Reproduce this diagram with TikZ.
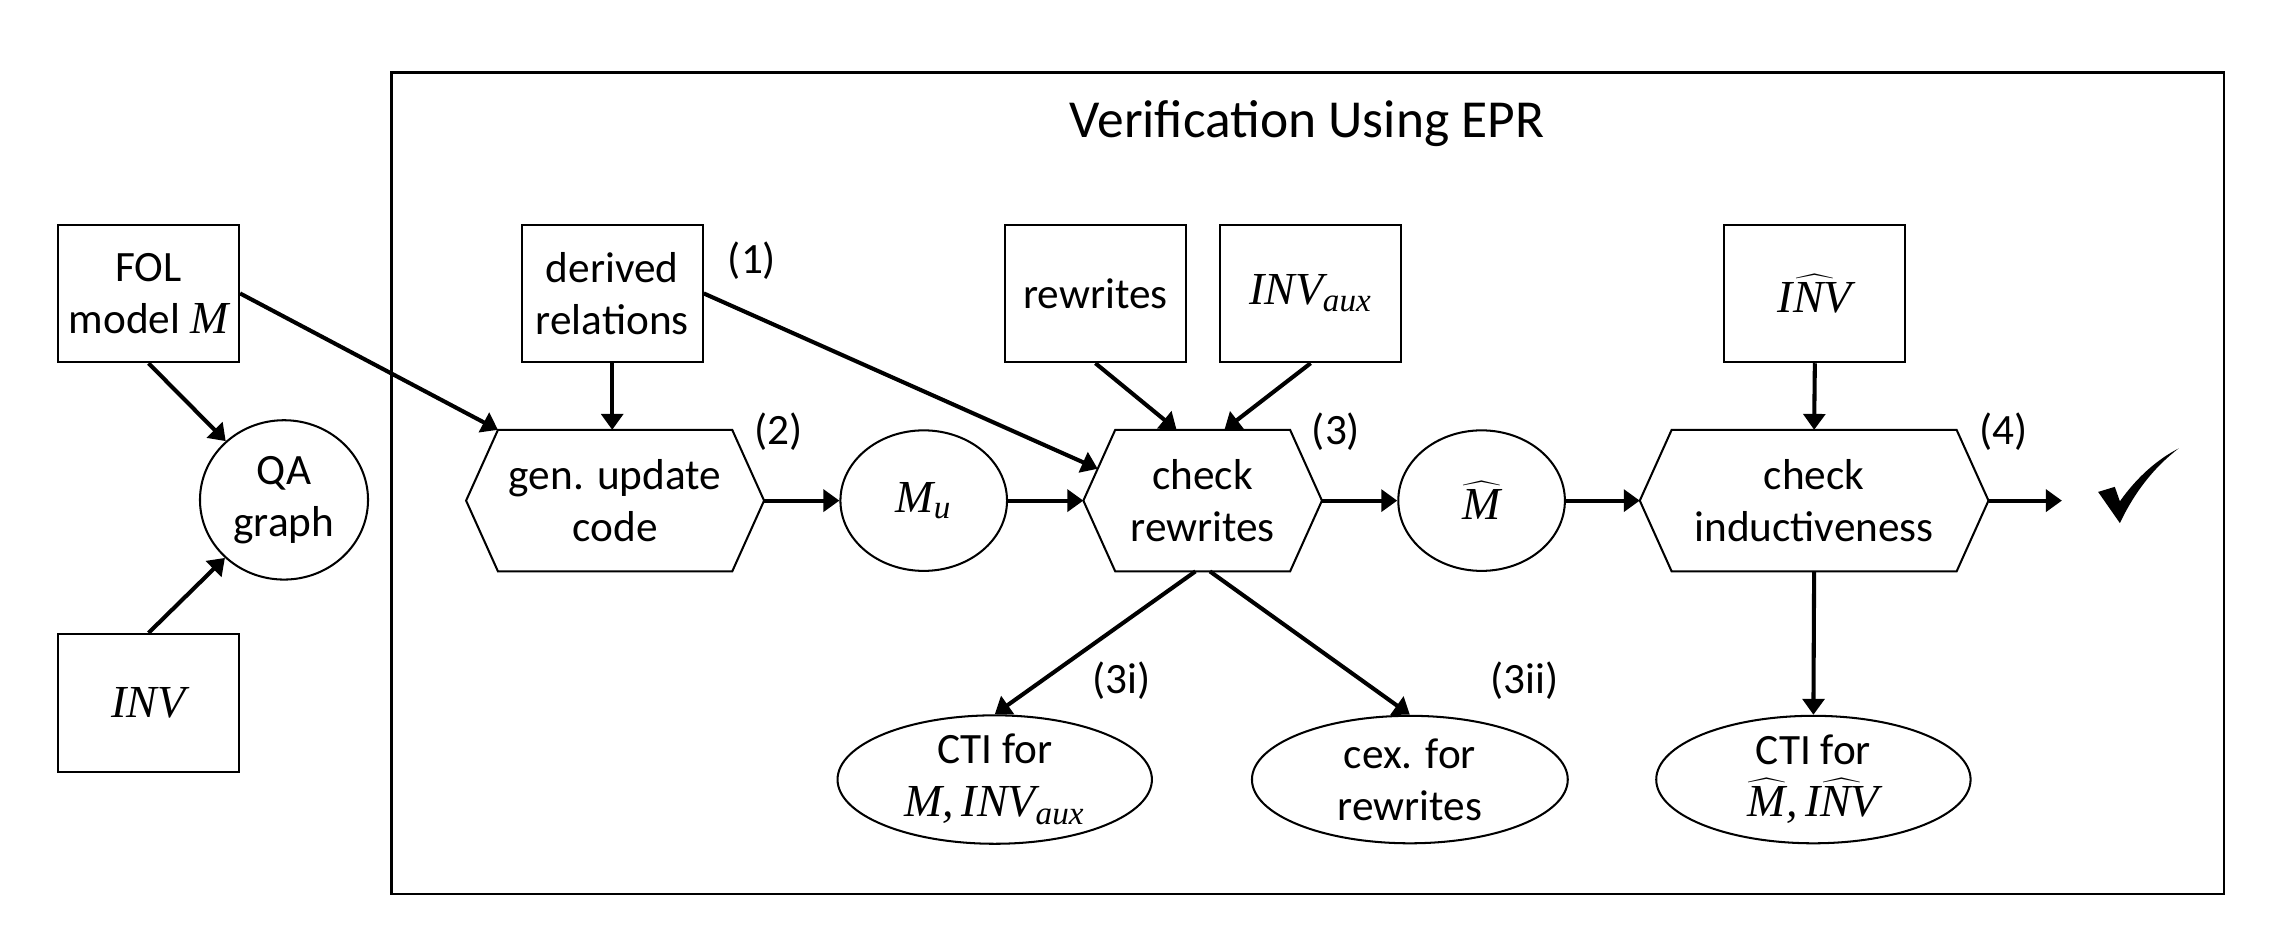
\documentclass[tikz,border=0pt]{standalone}
\usepackage{fontspec}
\setmainfont{Carlito}
\newfontfamily\mif{Liberation Serif}
\usetikzlibrary{arrows.meta,calc,shapes.geometric}
\newcommand{\fs}{\fontsize{17}{20.5}\selectfont}
\newcommand{\mv}[1]{\mbox{\fontsize{18}{20.5}\mif\itshape #1}}
\newcommand{\msub}[1]{\mbox{\fontsize{13}{14}\mif\itshape #1}}
\newcommand{\hexdraw}[1]{\draw[line width=0.8pt] ([xshift=0.44cm]#1.north west) -- ([xshift=-0.44cm]#1.north east) -- (#1.east) -- ([xshift=-0.44cm]#1.south east) -- ([xshift=0.44cm]#1.south west) -- (#1.west) -- cycle;}
\tikzset{
  box/.style={draw, line width=0.8pt, minimum width=2.5cm, minimum height=1.9cm, align=center, inner sep=0pt, font=\fs},
  ell/.style={draw, ellipse, line width=0.8pt, align=center, inner sep=0pt, font=\fs},
  hx/.style={minimum height=1.94cm, align=center, inner sep=0pt, font=\fs},
  arr/.style={-{Triangle[length=0.22cm,width=0.3cm]}, line width=1.6pt},
  lbl/.style={font=\fs, inner sep=0pt}
}
\begin{document}
\begin{tikzpicture}[x=0.02cm,y=-0.02cm]
\useasboundingbox (0,0) rectangle (1568,638);
\draw[line width=1pt] (270,50) rectangle (1535,617);
\node[font=\fontsize{21}{25}\selectfont] (title) at (902,85) {Verification Using EPR};
% left
\node[box] (fol) at (102.5,202.5) {FOL\\model $\mv{M}$};
\node[box] (inv) at (102.5,485) {$\mv{INV}$};
\node[ell, minimum width=2.32cm, minimum height=2.2cm] (qa) at (196,345) {QA\\graph};
% top boxes
\node[box] (der) at (422.5,202.5) {derived\\relations};
\node[box] (rew) at (756,202.5) {rewrites};
\node[box] (aux) at (904.5,202.5) {$\mv{INV}_{\msub{aux}}$};
\node[box] (invh) at (1252.5,202.5) {$\widehat{\mv{INV}}$};
% hexagons
\node[hx, minimum width=4.1cm] (gen) at (424.5,345.5) {gen. update\\code};
\node[hx, minimum width=3.28cm] (chk) at (830,345.5) {check\\rewrites};
\node[hx, minimum width=4.8cm] (ind) at (1252,345.5) {check\\inductiveness};
\hexdraw{gen}
\hexdraw{chk}
\hexdraw{ind}
% ellipses
\node[ell, minimum width=2.3cm, minimum height=1.94cm] (mu) at (637.5,345.5) {$\mv{M}_{\msub{u}}$};
\node[ell, minimum width=2.3cm, minimum height=1.94cm] (mh) at (1022.5,345.5) {$\widehat{\mv{M}}$};
\node[ell, minimum width=4.34cm, minimum height=1.76cm] (cti1) at (686.5,538) {CTI for\\$\mv{M,\,INV}_{\msub{aux}}$};
\node[ell, minimum width=4.36cm, minimum height=1.76cm] (cex) at (973,538) {cex. for\\rewrites};
\node[ell, minimum width=4.34cm, minimum height=1.76cm] (cti2) at (1251.5,538) {CTI for\\$\widehat{\mv{M}}\mv{,\,}\widehat{\mv{INV}}$};
% labels
\node[lbl] (l1) at (519,180) {(1)};
\node[lbl] (l2) at (537,298) {(2)};
\node[lbl] (l3) at (922,298) {(3)};
\node[lbl] (l4) at (1383,298) {(4)};
\node[lbl] (l3i) at (774,470) {(3i)};
\node[lbl] (l3ii) at (1052,470) {(3ii)};
% connectors
\draw[arr] (fol.south) -- (qa);
\draw[arr] (inv.north) -- (qa);
\draw[arr] (fol.east) -- ([xshift=0.44cm]gen.north west);
\draw[arr] (der.south) -- (der.south |- gen.north);
\draw[arr] (der.east) -- ($(chk.west)!0.45!([xshift=0.44cm]chk.north west)$);
\draw[arr] (rew.south) -- ([xshift=-0.36cm]chk.north);
\draw[arr] (aux.south) -- ([xshift=0.3cm]chk.north);
\draw[arr] (gen.east) -- (mu.west);
\draw[arr] (mu.east) -- (chk.west);
\draw[arr] (chk.east) -- (mh.west);
\draw[arr] (mh.east) -- (ind.west);
\draw[arr] (invh.south) -- (ind.north);
\draw[arr] (ind.south) -- (cti2.north);
\draw[arr] ([xshift=-0.1cm]chk.south) -- (cti1.north);
\draw[arr] ([xshift=0.1cm]chk.south) -- (cex.north);
\coordinate (done) at (1423,345.5);
\draw[arr] (ind.east) -- (done);
% check mark
\fill (1448,339.5) -- (1459.5,336) -- (1463,346) .. controls (1475,329) and (1489,317) .. (1503.5,309.5) .. controls (1486,323) and (1473,340) .. (1463,361) -- cycle;
\end{tikzpicture}
\end{document}
